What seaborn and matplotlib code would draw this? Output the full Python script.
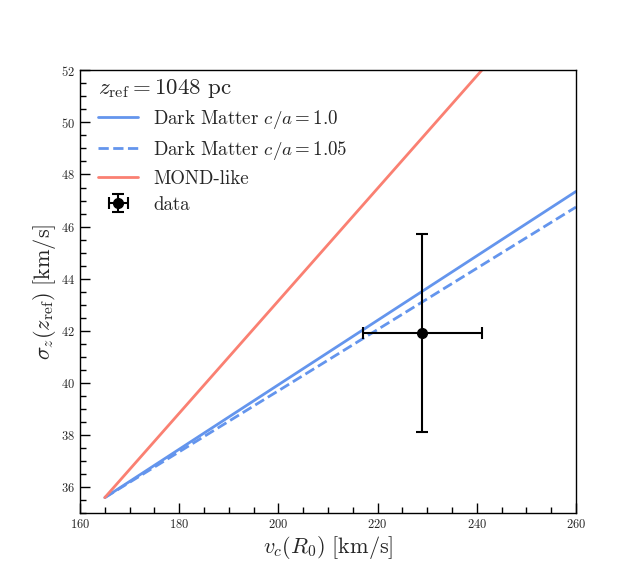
import matplotlib
matplotlib.use("Agg")
import matplotlib.pyplot as plt
import seaborn as sns
import pandas as pd
from matplotlib.ticker import MultipleLocator

sns.set_theme(style="ticks")
plt.rcParams.update({
    "font.family": "serif",
    "font.serif": ["cmr10"],
    "mathtext.fontset": "cm",
    "axes.formatter.use_mathtext": True,
    "axes.unicode_minus": False,
})

# data
vc_dm = [165, 200, 260]
sig_dm_10 = [35.6, 39.93, 47.35]
vc_dm105 = [165, 200, 260]
sig_dm_105 = [35.6, 39.7, 46.75]
vc_mond = [165, 241]
sig_mond = [35.6, 52.0]
data_vc = [229.0]
data_sig = [41.9]
data_vc_err = [12.0]
data_sig_err = [3.8]

fig, ax = plt.subplots(figsize=(6.4, 5.76), dpi=100)
fig.subplots_adjust(left=0.125, right=0.9, top=0.878, bottom=0.109)

sns.lineplot(x=vc_dm, y=sig_dm_10, ax=ax, color="cornflowerblue", lw=2,
             label=r"Dark Matter $c/a = 1.0$")
sns.lineplot(x=vc_dm105, y=sig_dm_105, ax=ax, color="cornflowerblue", lw=2,
             linestyle="--", label=r"Dark Matter $c/a = 1.05$")
sns.lineplot(x=vc_mond, y=sig_mond, ax=ax, color="salmon", lw=2,
             label="MOND-like")
ax.errorbar(data_vc, data_sig, xerr=data_vc_err, yerr=data_sig_err,
            fmt="o", color="black", ms=7, capsize=4, elinewidth=1.5,
            capthick=1.5, label="data")

ax.set_xlim(160, 260)
ax.set_ylim(35, 52)
ax.xaxis.set_major_locator(MultipleLocator(20))
ax.xaxis.set_minor_locator(MultipleLocator(5))
ax.yaxis.set_major_locator(MultipleLocator(2))
ax.yaxis.set_minor_locator(MultipleLocator(0.5))
ax.tick_params(which="both", direction="in", top=False, right=False,
               labelsize=9, color="black")
ax.tick_params(which="major", length=7, width=1)
ax.tick_params(which="minor", length=4, width=1)
for s in ax.spines.values():
    s.set_color("black")
    s.set_linewidth(1)

ax.set_xlabel(r"$v_c(R_0)\ [\mathrm{km/s}]$", fontsize=16, labelpad=2)
ax.set_ylabel(r"$\sigma_z(z_\mathrm{ref})\ [\mathrm{km/s}]$", fontsize=16, labelpad=2)

leg = ax.legend(loc="upper left", bbox_to_anchor=(0.018, 1.006), frameon=False,
                fontsize=13.6, title=r"$z_\mathrm{ref} = 1048$ pc",
                title_fontsize=16.5, handlelength=2.1, borderaxespad=0.2,
                borderpad=0.3, labelspacing=0.42)
leg._legend_box.align = "left"

fig.savefig("out.png", dpi=100)
